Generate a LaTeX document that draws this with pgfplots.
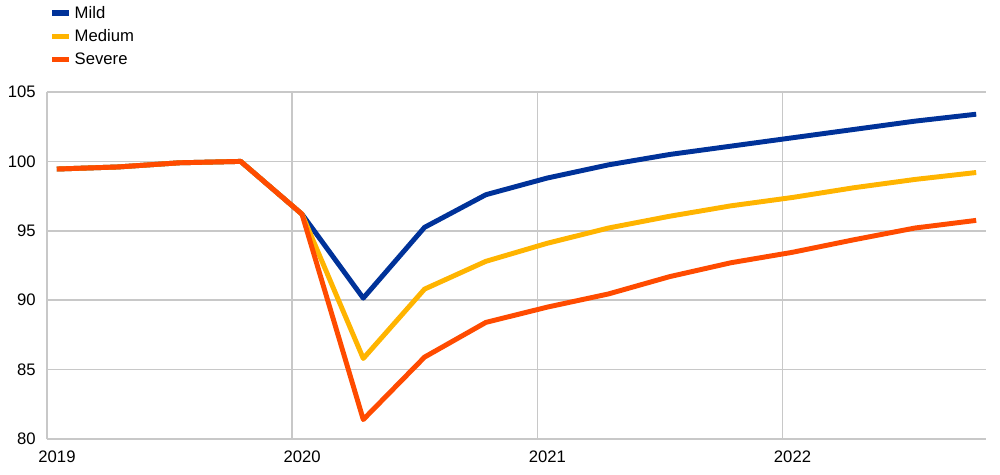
\documentclass[border=0pt]{standalone}
\usepackage{pgfplots}
\pgfplotsset{compat=1.18}
\usepackage{fontspec}
\setmainfont{Liberation Sans}
\definecolor{mild}{HTML}{003299}
\definecolor{medium}{HTML}{FFB400}
\definecolor{severe}{HTML}{FF4B00}
\definecolor{gridc}{HTML}{C8C8C8}
\pgfplotstableread{
x mild medium severe
2019.04 99.45 99.45 99.45
2019.29 99.6 99.6 99.6
2019.54 99.9 99.9 99.9
2019.79 100.0 100.0 100.0
2020.04 96.2 96.2 96.2
2020.29 90.15 85.8 81.4
2020.54 95.25 90.8 85.9
2020.79 97.6 92.8 88.4
2021.04 98.8 94.1 89.5
2021.29 99.75 95.2 90.45
2021.54 100.5 96.05 91.7
2021.79 101.1 96.8 92.7
2022.04 101.7 97.4 93.45
2022.29 102.3 98.1 94.35
2022.54 102.9 98.7 95.2
2022.79 103.4 99.2 95.75
}\data
\begin{document}
\begin{tikzpicture}
\path[use as bounding box] (-35.25pt,-27pt) rectangle (714.75pt,329.25pt);
\begin{axis}[
  at={(0,0)}, anchor=south west,
  scale only axis,
  width=704.25pt, height=260.25pt,
  xmin=2019, xmax=2022.83,
  ymin=80, ymax=105,
  xtick={2019,2020,2021,2022},
  xticklabels={2019,2020,2021,2022},
  ytick={80,85,...,105},
  yticklabels={80,85,90,95,100,105},
  grid=major,
  major grid style={gridc, line width=1.1pt},
  axis x line*=bottom,
  axis y line*=left,
  y axis line style={draw=none},
  x axis line style={gridc, line width=1.3pt, -},
  tick style={draw=none},
  ticklabel style={font=\fontsize{12.5}{14}\selectfont, text=black},
  y tick label style={anchor=east, xshift=-5pt},
  x tick label style={xshift=7.5pt, yshift=-5.5pt},
  legend style={at={(axis description cs:-0.002,1.264)}, anchor=north west,
    draw=none, fill=none, font=\fontsize{12.5}{14}\selectfont,
    row sep=3pt, legend cell align=left},
  legend image code/.code={\draw[#1, line width=4pt] (0pt,0pt) -- (13pt,0pt);},
  clip=false,
]
\addplot[mild, line width=3.7pt, line join=round] table[x=x, y=mild] {\data};
\addlegendentry{Mild}
\addplot[medium, line width=3.7pt, line join=round] table[x=x, y=medium] {\data};
\addlegendentry{Medium}
\addplot[severe, line width=3.7pt, line join=round] table[x=x, y=severe] {\data};
\addlegendentry{Severe}
\end{axis}
\end{tikzpicture}
\end{document}
